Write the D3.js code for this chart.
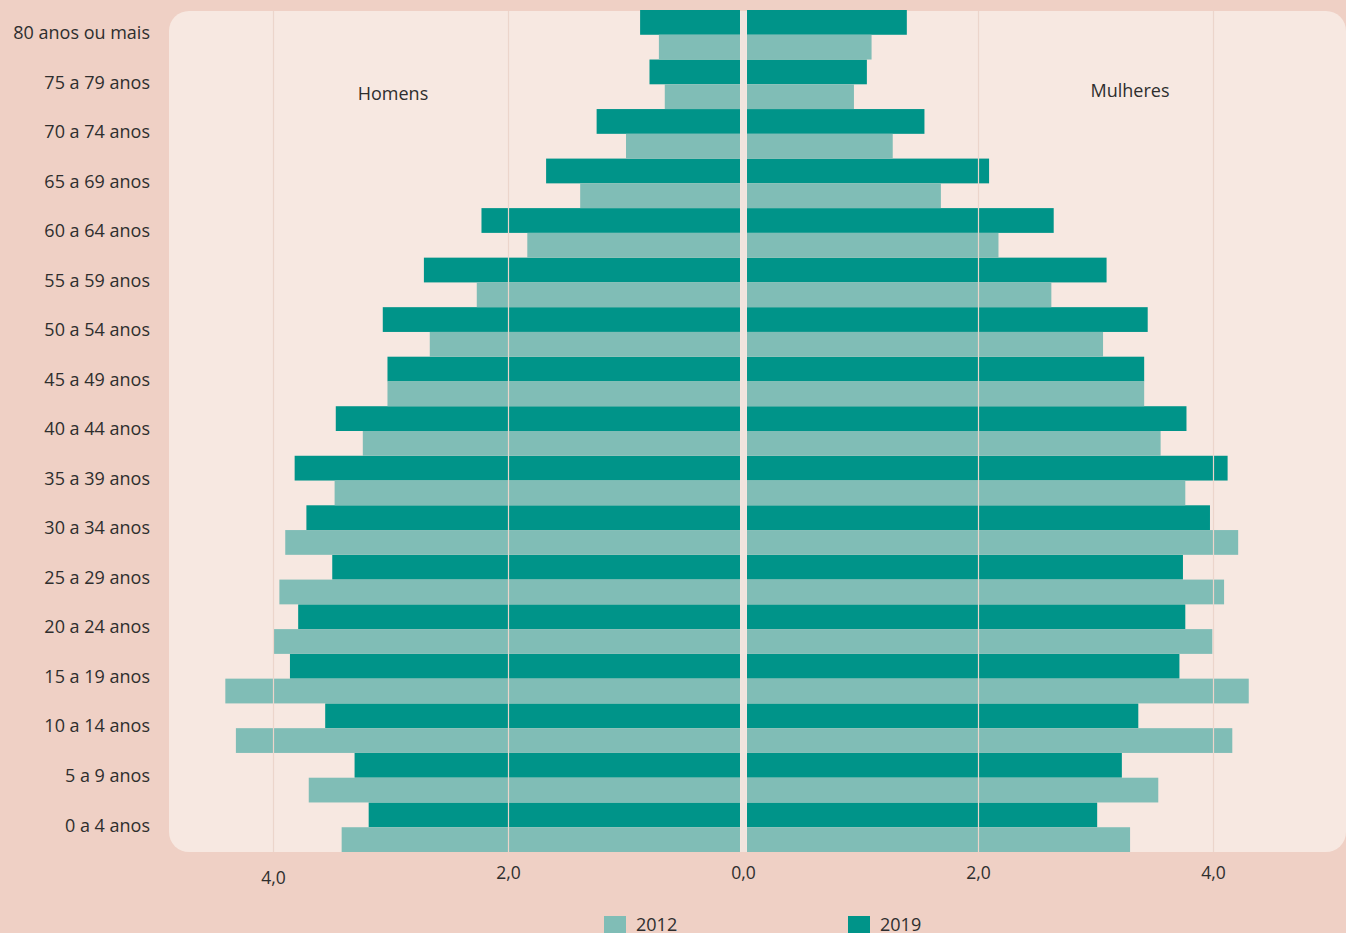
<!DOCTYPE html>
<html>
<head>
<meta charset="utf-8">
<script src="https://cdn.jsdelivr.net/npm/d3@7"></script>
<style>
  html, body { margin: 0; padding: 0; background: #efd0c5; overflow: hidden; }
  svg { display: block; font-family: "Open Sans", Lato, sans-serif; }
</style>
</head>
<body>
<svg id="chart" width="1346" height="933"></svg>
<script>
"use strict";

// faixas etárias, de cima para baixo
const ageGroups = [
  "80 anos ou mais", "75 a 79 anos", "70 a 74 anos", "65 a 69 anos",
  "60 a 64 anos", "55 a 59 anos", "50 a 54 anos", "45 a 49 anos",
  "40 a 44 anos", "35 a 39 anos", "30 a 34 anos", "25 a 29 anos",
  "20 a 24 anos", "15 a 19 anos", "10 a 14 anos", "5 a 9 anos", "0 a 4 anos"
];

// % da população
const men2019 = [0.88, 0.80, 1.25, 1.68, 2.23, 2.72, 3.07, 3.03, 3.47, 3.82, 3.72, 3.50, 3.79, 3.86, 3.56, 3.31, 3.19];
const men2012 = [0.72, 0.67, 1.00, 1.39, 1.84, 2.27, 2.67, 3.03, 3.24, 3.48, 3.90, 3.95, 4.00, 4.41, 4.32, 3.70, 3.42];
const women2019 = [1.39, 1.05, 1.54, 2.09, 2.64, 3.09, 3.44, 3.41, 3.77, 4.12, 3.97, 3.74, 3.76, 3.71, 3.36, 3.22, 3.01];
const women2012 = [1.09, 0.94, 1.27, 1.68, 2.17, 2.62, 3.06, 3.41, 3.55, 3.76, 4.21, 4.09, 3.99, 4.30, 4.16, 3.53, 3.29];

const ticks = [4, 2, 0, 2, 4];
const years = ["2012", "2019"];

const colors = { "2012": "#80bdb6", "2019": "#009489" };

const svg = d3.select("#chart");

const center = 743.5;
const gap = 3.5;
const plotTop = 10, plotBottom = 852;

// escala de valores (mesma para os dois lados)
const x = d3.scaleLinear().domain([0, 4]).range([0, 470]);
const xl = v => center - x(v);
const xr = v => center + x(v);

const y = d3.scaleBand().domain(ageGroups).range([plotTop, plotBottom]).padding(0);
const half = y.bandwidth() / 2;

// painel
svg.append("rect")
  .attr("x", 169).attr("y", 11)
  .attr("width", 1346 - 169).attr("height", plotBottom - 11)
  .attr("rx", 20)
  .attr("fill", "#f7e8e1");

const rows = ageGroups.map((g, i) => ({
  group: g, m19: men2019[i], m12: men2012[i], w19: women2019[i], w12: women2012[i]
}));

const bars = svg.append("g");

// homens 2019 (em cima) e 2012 (em baixo)
bars.selectAll(".m19").data(rows).join("rect")
  .attr("x", d => xl(d.m19)).attr("y", d => y(d.group))
  .attr("width", d => x(d.m19) - gap).attr("height", half)
  .attr("fill", colors["2019"]);
bars.selectAll(".m12").data(rows).join("rect")
  .attr("x", d => xl(d.m12)).attr("y", d => y(d.group) + half)
  .attr("width", d => x(d.m12) - gap).attr("height", half)
  .attr("fill", colors["2012"]);

// mulheres
bars.selectAll(".w19").data(rows).join("rect")
  .attr("x", center + gap).attr("y", d => y(d.group))
  .attr("width", d => x(d.w19) - gap).attr("height", half)
  .attr("fill", colors["2019"]);
bars.selectAll(".w12").data(rows).join("rect")
  .attr("x", center + gap).attr("y", d => y(d.group) + half)
  .attr("width", d => x(d.w12) - gap).attr("height", half)
  .attr("fill", colors["2012"]);

// linhas de grade por cima das barras
const gridPos = [xl(4), xl(2), xr(2), xr(4)];
svg.append("g").selectAll("line").data(gridPos).join("line")
  .attr("x1", d => d).attr("x2", d => d)
  .attr("y1", 11).attr("y2", plotBottom)
  .attr("stroke", "#ecd5cb").attr("stroke-width", 1.2);

// eixo central
svg.append("rect")
  .attr("x", center - gap + 0.5).attr("y", 11)
  .attr("width", gap * 2 - 1).attr("height", plotBottom - 11)
  .attr("fill", "#f1e4de");

// rótulos das faixas
svg.append("g").selectAll("text").data(ageGroups).join("text")
  .attr("x", 150)
  .attr("y", d => y(d) + half - 2)
  .attr("dy", "0.35em")
  .attr("text-anchor", "end")
  .attr("font-size", 18)
  .attr("fill", "#2e2e2e")
  .text(d => d);

// rótulos do eixo x
const tickX = [xl(4), xl(2), center, xr(2), xr(4)];
svg.append("g").selectAll("text").data(ticks).join("text")
  .attr("x", (d, i) => tickX[i])
  .attr("y", (d, i) => i === 0 ? 878 : 873)
  .attr("dy", "0.35em")
  .attr("text-anchor", "middle")
  .attr("font-size", 17.5)
  .attr("fill", "#2e2e2e")
  .text(d => d3.format(".1f")(d).replace(".", ","));

// títulos dos lados
svg.append("text").attr("x", 393).attr("y", 94).attr("dy", "0.35em")
  .attr("text-anchor", "middle").attr("font-size", 18).attr("fill", "#2e2e2e")
  .text("Homens");
svg.append("text").attr("x", 1130).attr("y", 91).attr("dy", "0.35em")
  .attr("text-anchor", "middle").attr("font-size", 18).attr("fill", "#2e2e2e")
  .text("Mulheres");

// legenda
const legendX = [604, 848];
const legend = svg.append("g").selectAll("g").data(years).join("g")
  .attr("transform", (d, i) => `translate(${legendX[i]},916)`);
legend.append("rect")
  .attr("width", 22).attr("height", 22)
  .attr("fill", d => colors[d]);
legend.append("text")
  .attr("x", 32).attr("y", 9).attr("dy", "0.35em")
  .attr("font-size", 18).attr("fill", "#2e2e2e")
  .text(d => d);
</script>
</body>
</html>
